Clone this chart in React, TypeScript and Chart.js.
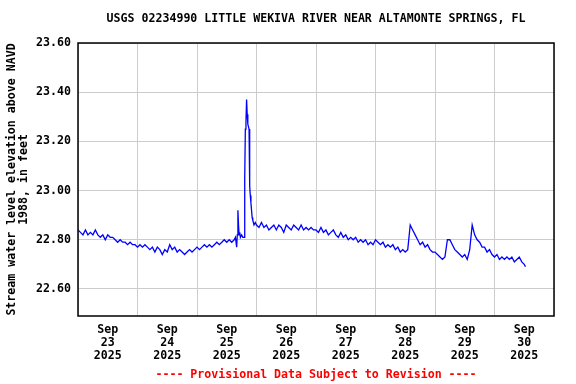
import React, { useEffect, useRef } from 'react';
import { Chart, registerables } from 'chart.js';

Chart.register(...registerables);

const TITLE = 'USGS 02234990 LITTLE WEKIVA RIVER NEAR ALTAMONTE SPRINGS, FL';
const Y_TITLE = ['Stream water level elevation above NAVD', '1988, in feet'];
const FOOTER = '---- Provisional Data Subject to Revision ----';
const TICK_MONTH = 'Sep';
const TICK_DAYS = ['23', '24', '25', '26', '27', '28', '29', '30'];
const TICK_YEAR = '2025';
const Y_TICKS = [22.6, 22.8, 23.0, 23.2, 23.4, 23.6];
const X_GRID_HOURS = [0, 24, 48, 72, 96, 120, 144, 168, 192];

// hours since Sep 23 2025 00:00
const HOURS = [
  0, 1, 2, 3, 4, 5, 6, 7, 8, 9, 10, 11, 12, 13, 14, 15, 16, 17, 18, 19, 20, 21, 22, 23,
  24, 25, 26, 27, 28, 29, 30, 31, 32, 33, 34, 35, 36, 37, 38, 39, 40, 41, 42, 43, 44, 45, 46, 47,
  48, 49, 50, 51, 52, 53, 54, 55, 56, 57, 58, 59, 60, 61, 62, 63,
  63.5, 64, 64.25, 64.5, 64.75, 65, 65.25, 65.5, 66, 66.5, 67, 67.25, 67.5, 67.75, 68, 68.25,
  68.5, 68.75, 69, 69.25, 69.5, 69.75, 70, 70.25, 70.5, 70.75, 71, 71.5, 72,
  73, 74, 75, 76, 77, 78, 79, 80, 81, 82, 83, 84, 85, 86, 87, 88, 89, 90, 91, 92, 93, 94, 95,
  96, 97, 98, 99, 100, 101, 102, 103, 104, 105, 106, 107, 108, 109, 110, 111, 112, 113, 114, 115, 116, 117, 118, 119,
  120, 121, 122, 123, 124, 125, 126, 127, 128, 129, 130, 131, 132, 133, 134, 135, 136, 137, 138, 139, 140, 141, 142, 143,
  144, 145, 146, 147, 148, 149, 150, 151, 152, 153, 154, 155, 156, 157, 158, 159, 160, 161, 162, 163, 164, 165, 166, 167, 168,
  169, 170, 171, 172, 173, 174, 175, 176, 177, 178, 179, 180,
  180.5,
];

// stream water level, feet
const LEVELS = [
  22.84, 22.83, 22.82, 22.84, 22.82, 22.83, 22.82, 22.84, 22.82, 22.81, 22.82, 22.80, 22.82, 22.81, 22.81, 22.80, 22.79, 22.80, 22.79, 22.79, 22.78, 22.79, 22.78, 22.78,
  22.77, 22.78, 22.77, 22.78, 22.77, 22.76, 22.77, 22.75, 22.77, 22.76, 22.74, 22.76, 22.75, 22.78, 22.76, 22.77, 22.75, 22.76, 22.75, 22.74, 22.75, 22.76, 22.75, 22.76,
  22.77, 22.76, 22.77, 22.78, 22.77, 22.78, 22.77, 22.78, 22.79, 22.78, 22.79, 22.80, 22.79, 22.80, 22.79, 22.80,
  22.81, 22.77, 22.82, 22.92, 22.86, 22.82, 22.83, 22.81, 22.82, 22.81, 22.81, 23.05, 23.25, 23.28, 23.37, 23.31,
  23.27, 23.26, 23.25, 23.02, 22.98, 22.95, 22.92, 22.89, 22.88, 22.87, 22.86, 22.87, 22.86,
  22.85, 22.87, 22.85, 22.86, 22.84, 22.85, 22.86, 22.84, 22.86, 22.85, 22.83, 22.86, 22.85, 22.84, 22.86, 22.85, 22.84, 22.86, 22.84, 22.85, 22.84, 22.85, 22.84,
  22.84, 22.83, 22.85, 22.83, 22.84, 22.82, 22.83, 22.84, 22.82, 22.81, 22.83, 22.81, 22.82, 22.80, 22.81, 22.80, 22.81, 22.79, 22.80, 22.79, 22.80, 22.78, 22.79, 22.78,
  22.80, 22.79, 22.78, 22.79, 22.77, 22.78, 22.77, 22.78, 22.76, 22.77, 22.75, 22.76, 22.75, 22.76, 22.86, 22.84, 22.82, 22.80, 22.78, 22.79, 22.77, 22.78, 22.76, 22.75,
  22.75, 22.74, 22.73, 22.72, 22.73, 22.80, 22.80, 22.78, 22.76, 22.75, 22.74, 22.73, 22.74, 22.72, 22.76, 22.86, 22.82, 22.80, 22.79, 22.77, 22.77, 22.75, 22.76, 22.74, 22.73,
  22.74, 22.72, 22.73, 22.72, 22.73, 22.72, 22.73, 22.71, 22.72, 22.73, 22.71, 22.70,
  22.69,
];

const FONT_FAMILY = '"DejaVu Sans Mono", "Liberation Mono", monospace';
const FONT_SIZE = 11.6;

const decorPlugin = {
  id: 'usgsDecor',
  afterDatasetsDraw(chart: any) {
    const { ctx, chartArea } = chart;
    const { left, right, top, bottom } = chartArea;
    const cx = (left + right) / 2;
    const cy = (top + bottom) / 2;
    ctx.save();
    // plot frame
    ctx.strokeStyle = '#000000';
    ctx.lineWidth = 1.5;
    ctx.strokeRect(left, top, right - left, bottom - top);
    ctx.font = `bold ${FONT_SIZE}px ${FONT_FAMILY}`;
    ctx.textAlign = 'center';
    ctx.textBaseline = 'middle';
    // title
    ctx.fillStyle = '#000000';
    ctx.fillText(TITLE, cx, 19);
    // footer
    ctx.fillStyle = '#ff0000';
    ctx.fillText(FOOTER, cx, 375);
    // y title
    ctx.fillStyle = '#000000';
    ctx.translate(0, cy);
    ctx.rotate(-Math.PI / 2);
    ctx.fillText(Y_TITLE[0], 0, 12);
    ctx.fillText(Y_TITLE[1], 0, 24);
    ctx.restore();
  },
};

export default function App() {
  const canvasRef = useRef<HTMLCanvasElement | null>(null);

  useEffect(() => {
    document.body.style.margin = '0';
    const canvas = canvasRef.current;
    if (!canvas) return;
    const points = HOURS.map((h, i) => ({ x: h, y: LEVELS[i] }));
    const tickFont = { family: FONT_FAMILY, size: FONT_SIZE, weight: 'bold' as const, lineHeight: 1.1 };

    const chart = new Chart(canvas, {
      type: 'line',
      data: {
        datasets: [
          {
            data: points,
            borderColor: '#0000ff',
            borderWidth: 1.3,
            pointRadius: 0,
            tension: 0,
            fill: false,
          },
        ],
      },
      options: {
        animation: false,
        responsive: false,
        parsing: false as any,
        layout: { padding: { top: 43, right: 22, bottom: 0, left: 0 } },
        plugins: {
          legend: { display: false },
          tooltip: { enabled: false },
          title: { display: false },
        },
        scales: {
          x: {
            type: 'linear',
            min: 0,
            max: 192,
            afterBuildTicks: (scale: any) => {
              scale.ticks = X_GRID_HOURS.map((v) => ({ value: v }));
            },
            afterFit: (scale: any) => {
              scale.height = 68;
            },
            ticks: {
              autoSkip: false,
              maxRotation: 0,
              minRotation: 0,
              labelOffset: 29.75,
              padding: 8,
              color: '#000000',
              font: tickFont,
              callback: (value: any) => {
                const idx = X_GRID_HOURS.indexOf(Number(value));
                if (idx < 0 || idx >= TICK_DAYS.length) return '';
                return [TICK_MONTH, TICK_DAYS[idx], TICK_YEAR];
              },
            },
            grid: { color: '#cccccc', lineWidth: 1, drawTicks: false },
            border: { display: false },
          },
          y: {
            type: 'linear',
            min: 22.49,
            max: 23.6,
            afterBuildTicks: (scale: any) => {
              scale.ticks = Y_TICKS.map((v) => ({ value: v }));
            },
            afterFit: (scale: any) => {
              scale.width = 78;
            },
            ticks: {
              padding: 7,
              color: '#000000',
              font: tickFont,
              callback: (value: any) => Number(value).toFixed(2),
            },
            grid: { color: '#cccccc', lineWidth: 1, drawTicks: false },
            border: { display: false },
          },
        },
      },
      plugins: [decorPlugin],
    });

    return () => {
      chart.destroy();
    };
  }, []);

  return (
    <div style={{ width: 576, height: 384, background: '#ffffff' }}>
      <canvas ref={canvasRef} width={576} height={384} />
    </div>
  );
}
